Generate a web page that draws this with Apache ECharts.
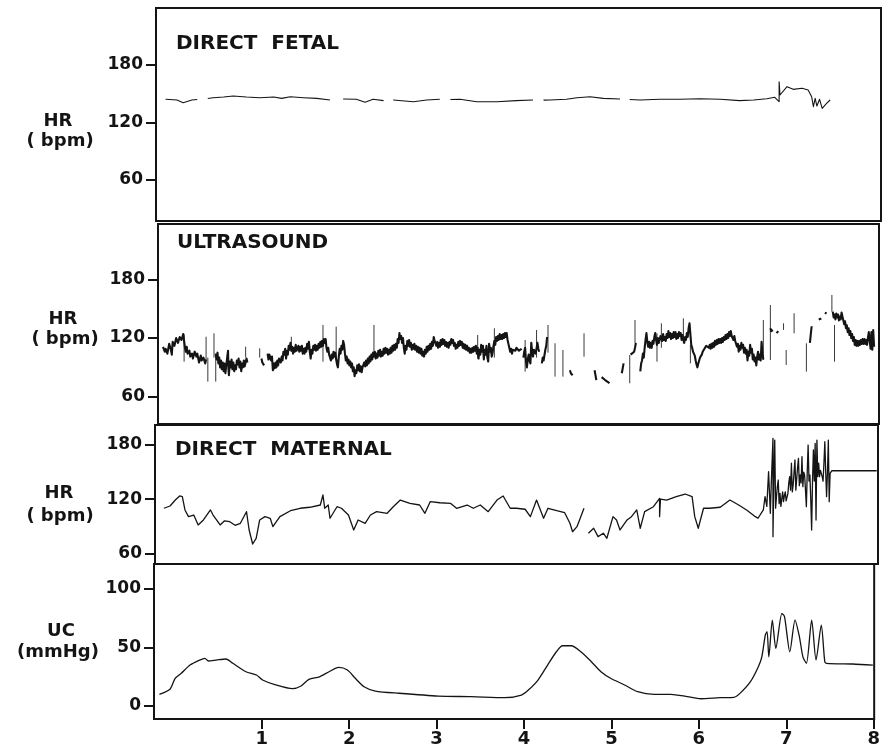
<!DOCTYPE html>
<html>
<head>
<meta charset="utf-8">
<script src="https://cdn.jsdelivr.net/npm/echarts@6/dist/echarts.min.js"></script>
<style>
  html, body { margin: 0; padding: 0; background: #fff; }
  #chart { width: 883px; height: 756px; }
</style>
</head>
<body>
<div id="chart"></div>
<script>
// Time axis (hours) shared by all four traces
const timeTicks = [1, 2, 3, 4, 5, 6, 7, 8];
const hrTicks = [60, 120, 180];
const ucTicks = [0, 50, 100];

const panelTitles = ['DIRECT  FETAL', 'ULTRASOUND', 'DIRECT  MATERNAL'];

// Direct fetal ECG heart rate, bpm ([time, value]; null = signal dropout)
const fetalHR = [
  [-0.10,144.2],[0.03,143.5],[0.10,140.7],[0.20,143.5],[0.26,144.0],[0.30,null],
  [0.38,145.0],[0.44,145.9],[0.56,146.6],[0.67,147.7],[0.82,146.6],[0.97,145.9],
  [1.13,146.6],[1.22,145.2],[1.32,146.9],[1.47,145.9],[1.62,145.2],[1.77,143.5],[1.80,null],
  [1.92,144.5],[2.07,144.2],[2.17,141.1],[2.26,144.2],[2.38,142.8],[2.42,null],
  [2.49,143.5],[2.72,141.7],[2.87,143.5],[3.02,144.2],[3.08,null],[3.14,144.0],[3.25,144.2],
  [3.44,141.7],[3.67,141.7],[3.89,142.8],[4.08,143.5],[4.16,null],[4.20,143.4],[4.27,143.5],
  [4.46,144.2],[4.58,145.9],[4.73,146.9],[4.88,145.2],[5.07,144.5],[5.12,null],[5.18,144.0],
  [5.30,143.5],[5.52,144.2],[5.75,144.2],[5.98,144.8],[6.21,144.2],[6.43,142.8],[6.59,143.5],
  [6.74,144.8],[6.83,146.3],[6.88,141.7],[6.88,162.6],[6.89,148.7],[6.97,157.4],[7.04,154.6],
  [7.14,155.7],[7.21,153.9],[7.25,146.9],[7.27,136.5],[7.29,145.2],[7.31,137.2],[7.34,144.2],
  [7.37,134.8],[7.42,140.0],[7.46,143.5]
];

// Ultrasound (Doppler) heart rate, bpm
const ultrasoundHR = [
  [-0.13,111],[-0.11,106],[-0.10,109],[-0.08,104],[-0.06,114],[-0.04,108],[-0.03,103],[-0.02,116],
  [0.00,112],[0.02,120],[0.04,115],[0.06,121],[0.08,118],[0.10,124],[0.11,122],[0.12,110],[0.13,106],
  [0.14,111],[0.15,104],[0.17,107],[0.18,101],[0.20,104],[0.21,99],[0.23,106],[0.25,101],[0.26,104],
  [0.28,95],[0.30,102],[0.31,97],[0.33,100],[0.35,94],[0.36,98],[0.37,null],
  [0.47,104],[0.48,98],[0.49,105],[0.50,94],[0.51,100],[0.52,90],[0.53,97],[0.54,88],[0.55,95],
  [0.56,86],[0.57,94],[0.58,84],[0.59,92],[0.60,100],[0.61,107],[0.615,88],[0.62,82],[0.63,96],
  [0.64,90],[0.65,98],[0.66,88],[0.67,95],[0.68,86],[0.69,92],[0.70,88],[0.71,97],[0.72,93],
  [0.73,99],[0.74,90],[0.75,96],[0.76,86],[0.77,94],[0.78,90],[0.79,97],[0.80,91],[0.82,99],
  [0.83,95],[0.84,null],
  [0.99,99],[1.00,95],[1.02,92],[1.03,null],
  [1.06,104],[1.07,98],[1.08,103],[1.10,97],[1.11,101],[1.12,87],[1.13,94],[1.14,89],[1.15,95],
  [1.16,90],[1.17,97],[1.18,92],[1.19,99],[1.21,95],[1.22,101],[1.23,97],[1.24,106],[1.25,103],
  [1.26,109],[1.27,99],[1.28,107],[1.29,103],[1.30,112],[1.31,108],[1.32,115],[1.33,107],[1.34,111],
  [1.35,104],[1.36,110],[1.37,106],[1.38,113],[1.39,107],[1.41,112],[1.42,106],[1.43,111],[1.44,107],
  [1.45,112],[1.46,104],[1.47,109],[1.48,104],[1.49,110],[1.50,106],[1.51,114],[1.52,109],[1.53,116],
  [1.54,106],[1.55,99],[1.56,108],[1.57,104],[1.58,112],[1.59,108],[1.60,113],[1.61,107],[1.62,112],
  [1.63,108],[1.64,114],[1.65,110],[1.66,116],[1.67,111],[1.68,117],[1.69,112],[1.70,119],[1.71,115],
  [1.72,119],[1.73,110],[1.74,106],[1.75,110],[1.76,103],[1.77,100],[1.78,97],[1.79,103],[1.80,99],
  [1.81,106],[1.82,101],[1.83,105],[1.84,98],[1.85,93],[1.86,90],[1.87,101],[1.88,109],[1.89,104],
  [1.90,112],[1.91,108],[1.92,117],[1.93,113],[1.94,104],[1.95,97],[1.96,101],[1.97,94],[1.98,98],
  [1.99,92],[2.00,96],[2.01,90],[2.02,94],[2.03,86],[2.04,90],[2.05,81],[2.06,87],[2.07,84],
  [2.08,92],[2.09,87],[2.10,93],[2.11,86],[2.12,91],[2.13,85],[2.14,90],[2.15,88],[2.16,95],
  [2.17,91],[2.18,97],[2.19,92],[2.20,99],[2.21,94],[2.22,101],[2.23,96],[2.24,103],[2.25,98],
  [2.26,105],[2.27,101],[2.28,106],[2.29,99],[2.30,104],[2.31,100],[2.32,107],[2.33,102],[2.34,108],
  [2.35,101],[2.36,106],[2.37,102],[2.38,109],[2.39,104],[2.40,110],[2.41,105],[2.42,109],[2.43,103],
  [2.44,108],[2.45,104],[2.46,110],[2.47,105],[2.48,112],[2.49,107],[2.50,113],[2.51,108],[2.52,114],
  [2.53,110],[2.54,119],[2.55,115],[2.56,125],[2.57,119],[2.58,122],[2.59,115],[2.60,120],[2.61,110],
  [2.62,104],[2.63,112],[2.64,108],[2.65,117],[2.66,112],[2.67,118],[2.68,111],[2.69,115],[2.70,108],
  [2.71,113],[2.72,109],[2.73,114],[2.74,108],[2.75,112],[2.76,106],[2.77,111],[2.78,105],[2.79,110],
  [2.80,104],[2.81,109],[2.82,102],[2.83,106],[2.84,101],[2.85,108],[2.86,104],[2.87,111],[2.88,106],
  [2.89,112],[2.90,108],[2.91,114],[2.92,109],[2.93,116],[2.94,112],[2.95,121],[2.96,117],[2.97,119],
  [2.98,112],[2.99,116],[3.00,110],[3.01,115],[3.02,111],[3.03,118],[3.04,113],[3.05,119],[3.06,114],
  [3.07,118],[3.08,112],[3.09,116],[3.10,111],[3.11,115],[3.12,110],[3.13,116],[3.14,113],[3.15,119],
  [3.16,115],[3.17,118],[3.18,112],[3.19,115],[3.20,109],[3.21,113],[3.22,110],[3.23,116],[3.24,112],
  [3.25,117],[3.26,113],[3.27,116],[3.28,110],[3.29,114],[3.30,109],[3.31,113],[3.32,108],[3.33,112],
  [3.34,107],[3.35,110],[3.36,105],[3.37,109],[3.38,105],[3.39,110],[3.40,106],[3.41,111],[3.42,107],
  [3.43,112],[3.44,104],[3.45,110],[3.46,99],[3.47,108],[3.48,103],[3.49,113],[3.50,106],[3.51,112],
  [3.52,98],[3.53,108],[3.54,103],[3.55,112],[3.56,100],[3.57,96],[3.58,114],[3.59,106],[3.60,110],
  [3.61,101],[3.62,105],[3.63,112],[3.64,117],[3.65,113],[3.66,121],[3.67,117],[3.68,122],[3.69,118],
  [3.70,124],[3.71,119],[3.72,123],[3.73,119],[3.74,124],[3.75,120],[3.76,125],[3.77,121],[3.78,125],
  [3.79,118],[3.80,114],[3.81,110],[3.82,106],[3.83,109],[3.84,104],[3.85,108],[3.86,106],[3.87,110],
  [3.88,107],[3.89,110],[3.90,108],[3.91,110],[3.92,107],[3.93,109],[3.94,108],[3.95,109],[3.96,null],
  [3.97,100],[3.98,106],[3.99,110],[4.00,96],[4.01,90],[4.02,98],[4.03,103],[4.04,97],[4.05,94],
  [4.06,115],[4.07,106],[4.08,101],[4.09,108],[4.10,110],[4.11,104],[4.13,115],[4.14,109],[4.15,106],
  [4.16,null],
  [4.18,94],[4.19,100],[4.20,97],[4.22,108],[4.23,112],[4.24,121],[4.25,null],
  [4.50,87],[4.51,84],[4.53,82],[4.54,null],
  [4.78,87],[4.79,82],[4.80,77],[4.81,null],
  [4.86,80],[4.88,78],[4.90,77],[4.92,76],[4.95,74],[4.96,null],
  [5.09,84],[5.10,89],[5.11,94],[5.12,null],
  [5.19,103],[5.21,101],[5.23,106],[5.24,110],[5.25,115],[5.26,null],
  [5.30,86],[5.31,94],[5.32,97],[5.33,104],[5.34,100],[5.35,110],[5.36,118],[5.37,125],[5.38,116],
  [5.39,111],[5.40,116],[5.41,110],[5.42,115],[5.43,110],[5.44,117],[5.45,114],[5.46,121],[5.47,125],
  [5.48,118],[5.49,113],[5.50,120],[5.51,115],[5.52,118],[5.53,122],[5.54,120],[5.55,117],[5.56,124],
  [5.57,118],[5.58,121],[5.59,117],[5.60,124],[5.61,120],[5.62,127],[5.63,121],[5.64,125],[5.65,119],
  [5.66,124],[5.67,120],[5.68,126],[5.69,121],[5.70,126],[5.71,119],[5.72,124],[5.73,120],[5.74,126],
  [5.75,122],[5.76,125],[5.77,118],[5.78,123],[5.79,119],[5.80,115],[5.81,121],[5.82,118],[5.83,125],
  [5.84,121],[5.85,130],[5.86,135],[5.87,124],[5.88,113],[5.89,110],[5.90,106],[5.91,104],[5.92,102],
  [5.93,97],[5.94,93],[5.95,90],[5.96,94],[5.97,97],[5.98,100],[5.99,98],[6.00,103],[6.01,106],
  [6.02,104],[6.03,109],[6.04,107],[6.05,112],[6.06,110],[6.07,114],[6.08,110],[6.09,113],[6.10,109],
  [6.11,114],[6.12,110],[6.13,115],[6.14,111],[6.15,117],[6.16,113],[6.17,118],[6.18,114],[6.19,119],
  [6.20,115],[6.21,119],[6.22,115],[6.23,120],[6.24,116],[6.25,121],[6.26,118],[6.27,123],[6.28,119],
  [6.29,124],[6.30,120],[6.31,126],[6.32,122],[6.33,127],[6.34,122],[6.35,124],[6.36,118],[6.37,122],
  [6.38,117],[6.39,119],[6.40,111],[6.41,114],[6.42,106],[6.43,112],[6.44,108],[6.45,115],[6.46,110],
  [6.47,113],[6.48,105],[6.49,110],[6.50,104],[6.51,108],[6.52,97],[6.53,106],[6.54,102],[6.55,113],
  [6.56,105],[6.57,109],[6.58,98],[6.59,103],[6.60,96],[6.61,100],[6.62,92],[6.63,101],[6.64,106],
  [6.65,98],[6.66,103],[6.67,97],[6.68,116],[6.69,104],[6.70,98],[6.71,null],
  [6.78,130],[6.79,127],[6.81,128],[6.82,null],
  [6.85,125],[6.87,127],[6.88,null],
  [7.23,115],[7.24,124],[7.25,132],[7.26,null],
  [7.33,139],[7.36,140],[7.37,null],
  [7.40,146],[7.42,145],[7.43,null],
  [7.49,147],[7.50,141],[7.51,144],[7.52,139],[7.53,145],[7.54,141],[7.55,144],[7.56,138],[7.57,142],
  [7.58,139],[7.59,146],[7.60,142],[7.61,138],[7.62,134],[7.63,137],[7.64,130],[7.65,133],[7.66,126],
  [7.67,130],[7.68,123],[7.69,127],[7.70,120],[7.71,124],[7.72,117],[7.73,121],[7.74,113],[7.75,118],
  [7.76,112],[7.77,117],[7.78,112],[7.79,117],[7.80,113],[7.81,118],[7.82,114],[7.83,119],[7.84,114],
  [7.85,119],[7.86,114],[7.87,118],[7.88,113],[7.89,120],[7.90,126],[7.91,128],[7.92,109],[7.93,126],
  [7.94,108],[7.95,128],[7.96,111]
];

// Isolated ultrasound artefact strokes: [time, low bpm, high bpm]
const ultrasoundSpikes = [
  [0.11,95.8,123.8],[0.36,97.5,121.3],[0.38,75.4,100.0],[0.45,100.0,124.8],[0.47,75.4,104.0],
  [0.81,100.0,111.1],[0.97,100.0,109.5],[1.33,106.0,121.3],[1.69,95.8,133.3],[1.84,100.0,131.6],
  [2.27,100.0,133.3],[3.45,99.3,123.1],[3.64,100.0,129.9],[3.99,85.6,118.0],[4.12,100.0,128.2],
  [4.25,105.0,133.3],[4.33,80.5,114.6],[4.42,80.5,107.7],[4.66,100.9,124.8],[5.18,73.7,102.6],
  [5.24,114.6,138.4],[5.49,95.8,124.8],[5.54,110.0,135.0],[5.79,114.6,140.1],[5.87,94.1,112.9],
  [6.70,97.5,138.4],[6.78,97.5,153.7],[6.93,128.2,135.0],[6.96,92.4,107.7],[7.05,124.8,145.3],
  [7.19,85.6,114.6],[7.48,146.9,164.0],[7.51,95.8,133.3]
];

// Direct maternal ECG heart rate, bpm
const maternalHR = [
  [-0.12,109.9],[-0.05,112.4],[0.01,119.0],[0.06,123.5],[0.09,122.7],[0.12,108.0],[0.16,100.6],
  [0.22,102.4],[0.27,91.4],[0.33,96.9],[0.41,108.0],[0.44,102.4],[0.52,91.4],[0.57,96.0],
  [0.63,95.0],[0.69,91.0],[0.75,93.2],[0.82,106.1],[0.85,85.8],[0.89,70.3],[0.93,76.6],
  [0.97,96.9],[1.03,100.6],[1.09,98.8],[1.12,89.5],[1.20,100.6],[1.32,107.2],[1.43,109.9],
  [1.54,111.0],[1.66,113.5],[1.69,124.6],[1.71,109.9],[1.75,113.5],[1.77,98.8],[1.85,111.6],
  [1.90,109.9],[1.98,102.4],[2.04,85.8],[2.09,96.9],[2.17,93.2],[2.23,102.4],[2.30,106.1],
  [2.42,104.3],[2.49,111.6],[2.57,119.0],[2.68,115.4],[2.79,113.5],[2.85,104.3],[2.91,117.2],
  [3.02,116.0],[3.14,115.4],[3.21,109.9],[3.33,113.5],[3.40,109.9],[3.48,113.5],[3.57,106.1],
  [3.67,119.0],[3.74,123.5],[3.82,109.9],[3.89,109.9],[3.99,108.8],[4.05,100.6],[4.12,119.0],
  [4.20,98.8],[4.25,109.9],[4.35,107.2],[4.44,105.0],[4.50,93.2],[4.53,83.9],[4.58,89.5],
  [4.66,109.9],[4.68,null],
  [4.71,82.2],[4.77,87.7],[4.82,78.4],[4.88,82.2],[4.92,76.6],[4.99,100.6],[5.03,96.9],
  [5.07,85.8],[5.15,96.9],[5.20,100.6],[5.26,108.0],[5.30,87.7],[5.35,106.1],[5.45,111.6],
  [5.52,120.9],[5.52,100.6],[5.53,120.0],[5.60,119.0],[5.71,122.7],[5.81,125.7],[5.89,122.7],
  [5.92,100.6],[5.96,87.7],[6.02,109.9],[6.09,109.9],[6.21,111.0],[6.32,119.0],[6.42,113.5],
  [6.51,108.0],[6.61,100.6],[6.64,98.8],[6.70,108.0],[6.72,122.7],[6.74,112.0],[6.76,150.4],
  [6.78,104.3],[6.79,135.0],[6.81,187.4],[6.81,78.4],[6.82,140.0],[6.83,185.5],[6.84,110.0],
  [6.85,122.7],[6.86,134.0],[6.87,141.2],[6.88,115.0],[6.89,126.4],[6.90,112.0],[6.91,120.0],
  [6.92,128.0],[6.93,117.2],[6.94,124.0],[6.95,128.0],[6.96,118.0],[6.98,126.4],[6.99,138.0],
  [7.00,144.9],[7.01,130.0],[7.02,159.8],[7.03,128.0],[7.04,135.7],[7.05,150.0],[7.06,163.4],
  [7.07,130.0],[7.08,132.0],[7.09,155.0],[7.10,165.2],[7.11,135.0],[7.12,146.8],[7.13,138.0],
  [7.14,167.0],[7.15,133.8],[7.16,150.0],[7.17,146.8],[7.18,130.0],[7.19,111.6],[7.20,150.0],
  [7.21,180.0],[7.22,140.0],[7.23,146.8],[7.24,120.0],[7.25,85.8],[7.26,140.0],[7.27,174.5],
  [7.28,140.0],[7.29,181.8],[7.30,96.9],[7.31,185.5],[7.32,145.0],[7.33,160.0],[7.34,144.9],
  [7.35,152.0],[7.36,150.4],[7.37,145.0],[7.38,140.0],[7.39,160.0],[7.40,183.7],[7.41,150.0],
  [7.42,122.7],[7.43,150.0],[7.44,185.5],[7.45,117.2],[7.46,148.6],[7.48,151.5],[7.99,151.5]
];

// Uterine contraction pressure, mmHg
const ucPressure = [
  [-0.17,10.0],[-0.05,14.3],[0.01,23.7],[0.08,28.0],[0.18,35.0],[0.29,39.3],[0.35,40.8],
  [0.39,38.5],[0.48,39.3],[0.59,40.2],[0.67,36.5],[0.82,29.3],[0.94,26.5],[1.01,22.2],
  [1.16,18.0],[1.35,14.8],[1.45,17.1],[1.54,22.8],[1.66,25.0],[1.77,29.3],[1.88,33.0],
  [1.98,30.8],[2.07,23.7],[2.17,16.5],[2.30,12.8],[2.57,10.9],[3.02,8.5],[3.40,8.0],
  [3.78,7.1],[3.97,9.4],[4.05,13.7],[4.16,22.2],[4.27,35.0],[4.37,46.4],[4.44,51.5],
  [4.54,51.5],[4.65,46.4],[4.77,37.9],[4.88,29.3],[4.99,23.7],[5.15,18.0],[5.30,12.2],
  [5.49,10.0],[5.68,10.0],[5.87,8.0],[6.02,6.2],[6.24,7.1],[6.40,7.4],[6.47,10.8],
  [6.59,20.8],[6.68,33.6],[6.72,42.0],[6.76,60.7],[6.78,63.5],[6.80,42.0],[6.84,73.5],
  [6.88,49.3],[6.95,79.2],[6.98,76.3],[7.04,46.4],[7.10,73.5],[7.15,59.2],[7.19,42.0],
  [7.23,36.5],[7.29,73.5],[7.34,39.3],[7.40,69.2],[7.44,37.9],[7.46,36.5],[7.76,35.9],
  [7.99,35.0]
];

const INK = '#141414';
const FONT = '"DejaVu Sans", "Liberation Sans", sans-serif';

// Panel frames (pixels) and the data extent each frame spans
const panels = [
  { left: 156, top: 8,   width: 725, height: 213, xMin: -0.209, xMax: 8.039, yMin: 17.2, yMax: 239.5 },
  { left: 158, top: 224, width: 721, height: 200, xMin: -0.187, xMax: 8.016, yMin: 32.1, yMax: 236.5 },
  { left: 155, top: 425, width: 723, height: 139, xMin: -0.221, xMax: 8.005, yMin: 48.1, yMax: 202.2 },
  { left: 154, top: 564, width: 724, height: 155, xMin: -0.232, xMax: 8.005, yMin: -11.1, yMax: 121.4 }
];

function spikeSegments(list) {
  const out = [];
  list.forEach(([t, lo, hi]) => { out.push([t, lo], [t, hi], [t, null]); });
  return out;
}

const grids = panels.map(p => ({
  left: p.left, top: p.top, width: p.width, height: p.height,
  show: true, borderColor: INK, borderWidth: 2, backgroundColor: 'transparent'
}));

const xAxes = panels.map((p, i) => {
  const bottom = i === panels.length - 1;
  return {
    type: 'value', gridIndex: i, min: p.xMin, max: p.xMax,
    axisLine: { show: bottom, onZero: false, lineStyle: { color: INK, width: 2 } },
    axisTick: { show: bottom, length: 10, lineStyle: { color: INK, width: 2 }, customValues: timeTicks },
    axisLabel: {
      show: bottom, customValues: timeTicks, margin: 11,
      color: INK, fontFamily: FONT, fontWeight: 'bold', fontSize: 18
    },
    splitLine: { show: false }
  };
});

const yAxes = panels.map((p, i) => {
  const ticks = i === 3 ? ucTicks : hrTicks;
  return {
    type: 'value', gridIndex: i, min: p.yMin, max: p.yMax,
    axisLine: { show: true, onZero: false, lineStyle: { color: INK, width: 2 } },
    axisTick: { show: true, length: 10, lineStyle: { color: INK, width: 2 }, customValues: ticks },
    axisLabel: {
      customValues: ticks, margin: 13,
      color: INK, fontFamily: FONT, fontWeight: 'bold', fontSize: 17
    },
    splitLine: { show: false }
  };
});

function trace(data, idx, width, color, smooth) {
  return {
    type: 'line', xAxisIndex: idx, yAxisIndex: idx, data: data,
    showSymbol: false, symbol: 'none', connectNulls: false, silent: true,
    smooth: smooth || false,
    lineStyle: { color: color || INK, width: width, join: 'round' }
  };
}

const series = [
  trace(fetalHR, 0, 1.1),
  trace(spikeSegments(ultrasoundSpikes), 1, 1, '#3a3a3a'),
  trace(ultrasoundHR, 1, 2.1),
  trace(maternalHR, 2, 1.3),
  trace(ucPressure, 3, 1.3, INK, 0.25)
];

function label(text, x, y, size, align) {
  return {
    type: 'text', x: x, y: y, silent: true,
    style: {
      text: text, fill: INK, fontFamily: FONT, fontWeight: 'bold', fontSize: size,
      align: align || 'center', verticalAlign: 'middle'
    }
  };
}

const graphics = [
  label(panelTitles[0], 176, 44, 20, 'left'),
  label(panelTitles[1], 177, 243, 20, 'left'),
  label(panelTitles[2], 175, 450, 20, 'left'),
  label('HR', 58, 121, 18), label('( bpm)', 60, 141, 18),
  label('HR', 63, 319, 18), label('( bpm)', 65, 339, 18),
  label('HR', 59, 493, 18), label('( bpm)', 60, 516, 18),
  label('UC', 61, 631, 18), label('(mmHg)', 58, 652, 18)
];

const chart = echarts.init(document.getElementById('chart'), null, { renderer: 'canvas' });
chart.setOption({
  backgroundColor: '#ffffff',
  animation: false,
  grid: grids,
  xAxis: xAxes,
  yAxis: yAxes,
  series: series,
  graphic: graphics
});
</script>
</body>
</html>
